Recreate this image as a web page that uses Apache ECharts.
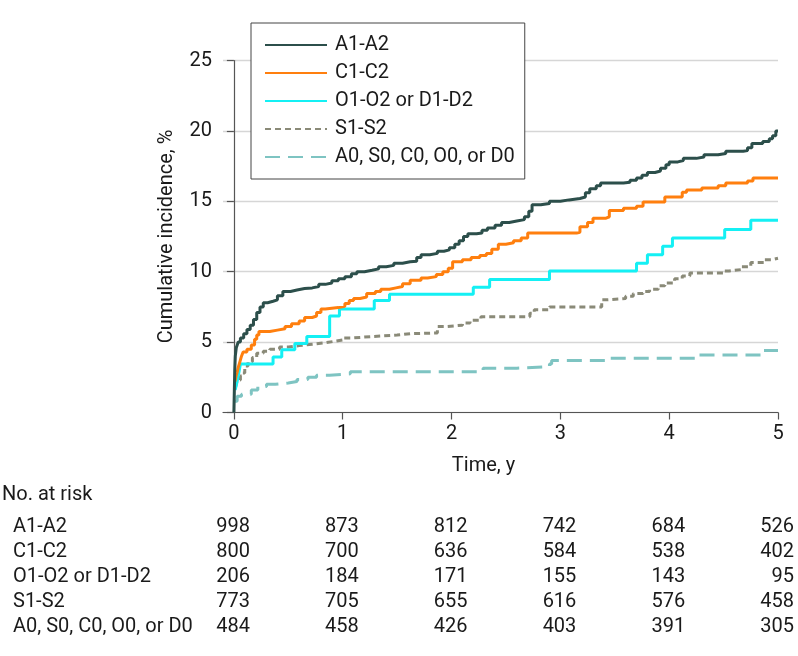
<!DOCTYPE html>
<html><head><meta charset="utf-8">
<script src="https://cdn.jsdelivr.net/npm/echarts@6/dist/echarts.min.js"></script>
<style>html,body{margin:0;padding:0;background:#fff}#c{width:798px;height:656px}</style>
</head><body><div id="c"></div>
<script>
const groupNames = ['A1-A2', 'C1-C2', 'O1-O2 or D1-D2', 'S1-S2', 'A0, S0, C0, O0, or D0'];
const xTicks = [0, 1, 2, 3, 4, 5];

const a1a2 = [[0,0],[0.004,1.5],[0.008,3.0],[0.013,4.0],[0.022,4.6],[0.04,5.0],[0.06,5.3],[0.09,5.6],[0.12,5.9],[0.15,6.2],[0.18,6.6],[0.21,7.1],[0.24,7.5],[0.27,7.8],[0.31,7.9],[0.36,8.0],[0.4,8.3],[0.45,8.6],[0.52,8.7],[0.58,8.8],[0.65,8.85],[0.72,8.95],[0.78,9.1],[0.84,9.2],[0.9,9.35],[0.96,9.5],[1.02,9.65],[1.08,9.85],[1.13,10.0],[1.2,10.1],[1.27,10.2],[1.33,10.35],[1.4,10.45],[1.47,10.6],[1.55,10.7],[1.62,10.75],[1.68,11.0],[1.72,11.2],[1.8,11.3],[1.87,11.45],[1.93,11.55],[1.98,11.7],[2.03,11.95],[2.07,12.2],[2.11,12.5],[2.15,12.7],[2.23,12.75],[2.28,12.95],[2.33,13.1],[2.4,13.3],[2.46,13.5],[2.53,13.6],[2.6,13.7],[2.67,13.9],[2.71,14.3],[2.74,14.75],[2.82,14.85],[2.9,15.0],[3.0,15.1],[3.08,15.2],[3.18,15.3],[3.23,15.6],[3.27,15.9],[3.33,16.1],[3.37,16.3],[3.58,16.35],[3.64,16.5],[3.7,16.65],[3.75,16.85],[3.8,17.05],[3.87,17.15],[3.92,17.35],[3.97,17.6],[4.0,17.8],[4.08,17.9],[4.13,18.05],[4.25,18.15],[4.32,18.3],[4.45,18.4],[4.52,18.55],[4.68,18.6],[4.72,18.8],[4.76,19.1],[4.86,19.25],[4.92,19.45],[4.95,19.65],[4.98,20.0],[5.0,20.0]];

const c1c2 = [[0.01,2.2],[0.02,2.6],[0.03,2.85],[0.04,3.2],[0.055,3.6],[0.07,4.0],[0.085,4.3],[0.12,4.5],[0.16,4.8],[0.19,5.2],[0.21,5.5],[0.23,5.75],[0.33,5.85],[0.4,5.95],[0.47,6.1],[0.53,6.3],[0.6,6.5],[0.65,6.75],[0.72,6.85],[0.76,7.1],[0.8,7.35],[0.84,7.45],[0.96,7.55],[1.02,7.75],[1.06,7.95],[1.1,8.1],[1.16,8.2],[1.22,8.45],[1.3,8.6],[1.35,8.75],[1.43,8.85],[1.49,8.95],[1.55,9.15],[1.62,9.4],[1.72,9.55],[1.78,9.65],[1.86,9.8],[1.92,10.0],[1.97,10.25],[2.01,10.7],[2.1,10.85],[2.18,11.0],[2.26,11.15],[2.32,11.3],[2.37,11.6],[2.43,11.95],[2.5,12.05],[2.57,12.2],[2.64,12.4],[2.7,12.75],[3.15,12.8],[3.18,13.2],[3.25,13.5],[3.3,13.8],[3.42,13.9],[3.45,14.35],[3.58,14.5],[3.7,14.65],[3.76,14.95],[3.96,15.3],[4.12,15.65],[4.16,15.8],[4.3,15.95],[4.45,16.1],[4.52,16.3],[4.72,16.45],[4.77,16.65],[5.0,16.7]];

const o1o2 = [[0.012,1.6],[0.03,2.2],[0.045,2.8],[0.06,3.45],[0.36,3.95],[0.44,4.45],[0.56,4.9],[0.67,5.4],[0.88,6.85],[0.97,7.35],[1.29,7.95],[1.43,8.4],[2.2,8.9],[2.35,9.45],[2.9,10.05],[3.7,10.6],[3.8,11.2],[3.94,11.8],[4.03,12.4],[4.51,13.0],[4.75,13.65],[5.0,13.65]];

const s1s2 = [[0.015,1.8],[0.03,2.3],[0.06,2.6],[0.08,2.8],[0.1,3.3],[0.13,3.6],[0.17,3.9],[0.21,4.2],[0.27,4.35],[0.33,4.5],[0.42,4.65],[0.5,4.75],[0.6,4.85],[0.72,4.95],[0.84,5.05],[0.92,5.15],[1.0,5.3],[1.1,5.4],[1.28,5.5],[1.5,5.6],[1.62,5.65],[1.87,6.1],[1.95,6.2],[2.1,6.35],[2.17,6.55],[2.27,6.8],[2.72,7.05],[2.76,7.3],[2.9,7.5],[3.38,8.0],[3.42,8.1],[3.6,8.25],[3.67,8.45],[3.76,8.6],[3.82,8.75],[3.9,9.0],[3.96,9.2],[4.05,9.5],[4.12,9.7],[4.19,9.9],[4.5,10.05],[4.55,10.15],[4.66,10.35],[4.75,10.65],[4.87,10.85],[4.94,10.95],[5.0,10.95]];

const a0s0 = [[0.004,0.8],[0.03,1.15],[0.07,1.3],[0.16,1.6],[0.22,1.85],[0.3,2.0],[0.38,2.1],[0.5,2.2],[0.58,2.35],[0.68,2.5],[0.76,2.65],[0.88,2.75],[1.07,2.9],[2.29,3.15],[2.6,3.25],[2.9,3.45],[2.92,3.7],[3.42,3.85],[4.24,4.08],[4.85,4.4],[5.0,4.4]];

const riskA1A2 = [998, 873, 812, 742, 684, 526];
const riskC1C2 = [800, 700, 636, 584, 538, 402];
const riskO1O2 = [206, 184, 171, 155, 143, 95];
const riskS1S2 = [773, 705, 655, 616, 576, 458];
const riskA0S0 = [484, 458, 426, 403, 391, 305];

const FONT = 'Roboto';
const TXT = '#1a1a1a';
const seriesData = [a1a2, c1c2, o1o2, s1s2, a0s0];
const seriesStyle = [
  {color: '#2c4f4b', type: 'solid'},
  {color: '#ff7f0e', type: 'solid'},
  {color: '#14f0f4', type: 'solid'},
  {color: '#8a8a78', type: [6, 4]},
  {color: '#7ec4c2', type: [15, 8]}
];

const chart = echarts.init(document.getElementById('c'), null, {renderer: 'canvas'});
chart.setOption({
  animation: false,
  backgroundColor: '#fff',
  grid: {left: 223, right: 20, top: 60.5, bottom: 243.5, containLabel: false},
  legend: {
    left: 251, top: 23, orient: 'vertical',
    padding: [12, 10, 12, 13],
    itemWidth: 62, itemHeight: 14, itemGap: 8,
    borderColor: '#444', borderWidth: 1, backgroundColor: '#fff',
    itemStyle: {opacity: 0},
    textStyle: {fontFamily: FONT, fontSize: 20, color: TXT, padding: [0, 0, 0, 3]},
    data: groupNames
  },
  xAxis: {
    type: 'value', min: -0.1, max: 5,
    name: 'Time, y', nameLocation: 'middle', nameGap: 43,
    nameTextStyle: {fontFamily: FONT, fontSize: 20, color: TXT, padding: [0, 34, 0, 0]},
    axisLine: {show: true, lineStyle: {color: '#555', width: 1.2}},
    axisTick: {show: true, length: 7, customValues: xTicks, lineStyle: {color: '#555', width: 1.2}},
    axisLabel: {margin: 11, customValues: xTicks, fontFamily: FONT, fontSize: 20, color: TXT},
    splitLine: {show: false}
  },
  yAxis: {
    type: 'value', min: 0, max: 25, interval: 5,
    name: 'Cumulative incidence, %', nameLocation: 'middle', nameGap: 46,
    nameTextStyle: {fontFamily: FONT, fontSize: 20, color: TXT},
    axisLine: {show: true, lineStyle: {color: '#555', width: 1.2}},
    axisTick: {show: true, length: 7, lineStyle: {color: '#555', width: 1.2}},
    axisLabel: {margin: 11, fontFamily: FONT, fontSize: 20, color: TXT},
    splitLine: {show: true, lineStyle: {color: '#d6d6d6', width: 1.3}}
  },
  series: groupNames.map((n, i) => ({
    name: n, type: 'line', step: 'end', data: seriesData[i],
    symbol: 'none', showSymbol: false,
    color: seriesStyle[i].color,
    lineStyle: {color: seriesStyle[i].color, width: 3, type: seriesStyle[i].type},
    z: 10 - i
  }))
});

// Number-at-risk table below the plot, columns aligned to the x-axis scale
const riskRows = [riskA1A2, riskC1C2, riskO1O2, riskS1S2, riskA0S0];
const elements = [{
  type: 'text', left: 2, top: 485,
  style: {text: 'No. at risk', fontFamily: FONT, fontSize: 20, fill: TXT}
}];
riskRows.forEach((row, r) => {
  const yc = 527 + r * 25;
  elements.push({
    type: 'text', x: 13, y: yc,
    style: {text: groupNames[r], fontFamily: FONT, fontSize: 20, fill: TXT, verticalAlign: 'middle', align: 'left'}
  });
  row.forEach((v, c) => {
    const px = chart.convertToPixel({xAxisIndex: 0}, xTicks[c]);
    elements.push({
      type: 'text', x: px + 16, y: yc,
      style: {text: String(v), fontFamily: FONT, fontSize: 20, fill: TXT, verticalAlign: 'middle', align: 'right'}
    });
  });
});
chart.setOption({graphic: {elements: elements}});
</script>
</body></html>
